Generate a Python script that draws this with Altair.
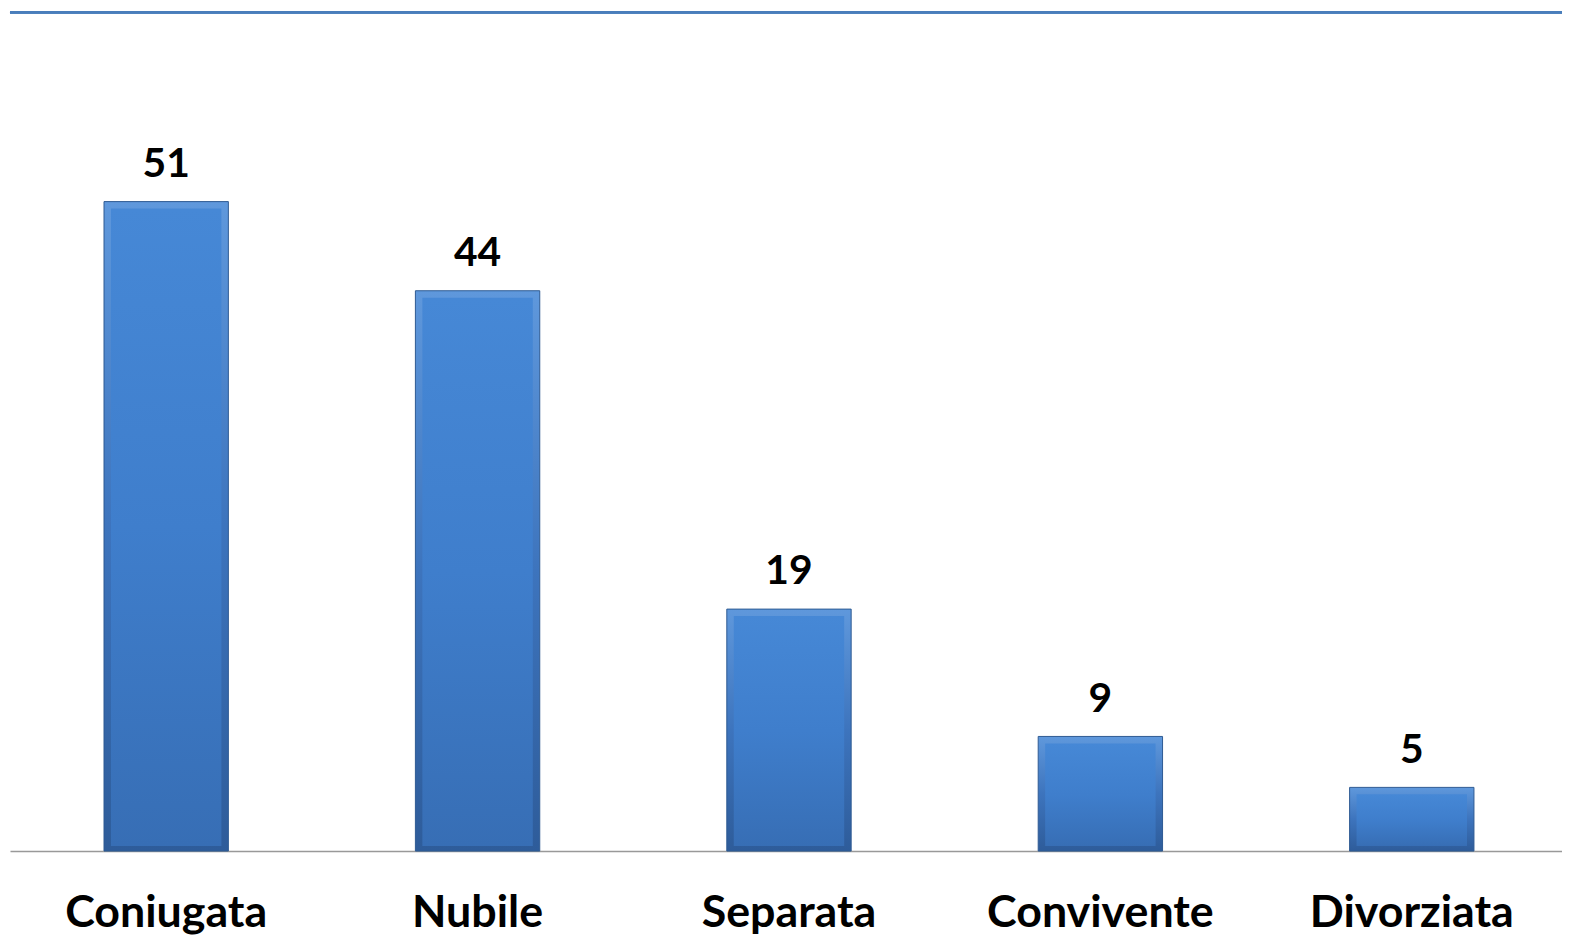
import altair as alt
import pandas as pd

categories = ["Coniugata", "Nubile", "Separata", "Convivente", "Divorziata"]
values = [51, 44, 19, 9, 5]

df = pd.DataFrame({"cat": categories, "val": values})

W, H = 1560, 843
FONT = "Lato"
PX = 12.8          # pixels per unit
YMAX = H / PX
BEVEL_T = 7 / PX   # bevel inset, in data units
BEVEL_B = 5 / PX
SHIFT = 3

xscale = alt.Scale(paddingInner=0.6, paddingOuter=0.292)
x = alt.X("cat:N", sort=categories, title=None, scale=xscale,
          axis=alt.Axis(labelAngle=0, labelFontSize=45, labelFont=FONT,
                        labelFontWeight="bold", labelColor="#000000",
                        labelPadding=76, labelLimit=400, ticks=False,
                        labelOffset=SHIFT,
                        domainColor="#999999", domainWidth=1.5,
                        labelBaseline="alphabetic", grid=False))
y = alt.Y("val:Q", title=None, axis=None,
          scale=alt.Scale(domain=[0, YMAX], nice=False))

base = alt.Chart(df)

outer = base.mark_bar(
    size=125, xOffset=SHIFT,
    color=alt.Gradient(gradient="linear",
                       stops=[alt.GradientStop(color="#5f98dc", offset=0),
                              alt.GradientStop(color="#3d74bd", offset=0.5),
                              alt.GradientStop(color="#2e5c9a", offset=1)],
                       x1=0, x2=0, y1=0, y2=1),
    stroke="#2d5a92", strokeWidth=1,
).encode(x=x, y=y)

inner = base.transform_calculate(
    top=f"datum.val - {BEVEL_T}", bot=f"{BEVEL_B}"
).mark_bar(
    size=111, xOffset=SHIFT,
    color=alt.Gradient(gradient="linear",
                       stops=[alt.GradientStop(color="#4688d6", offset=0),
                              alt.GradientStop(color="#3f7ecc", offset=0.5),
                              alt.GradientStop(color="#376eb5", offset=1)],
                       x1=0, x2=0, y1=0, y2=1),
).encode(x=alt.X("cat:N", sort=categories, scale=xscale),
         y=alt.Y("top:Q", scale=alt.Scale(domain=[0, YMAX], nice=False)),
         y2="bot:Q")

labels = base.mark_text(baseline="alphabetic", dy=-25, xOffset=SHIFT,
                        fontSize=41, font=FONT,
                        fontWeight="bold", color="#000000").encode(
    x=alt.X("cat:N", sort=categories, scale=xscale), y="val:Q", text="val:Q")

topline = alt.Chart(df).mark_rule(color="#4a7ebb", strokeWidth=2.5).encode(
    x=alt.value(0), x2=alt.value(1570), y=alt.value(0))

chart = alt.layer(topline, outer, inner, labels).properties(
    width=W, height=H,
    autosize=alt.AutoSizeParams(type="none"),
    padding={"left": 2, "top": 2, "right": 0, "bottom": 88},
    background="#ffffff",
).configure_view(stroke=None, strokeWidth=0)

chart.save("out.html", embed_options={"renderer": "svg", "actions": False})
